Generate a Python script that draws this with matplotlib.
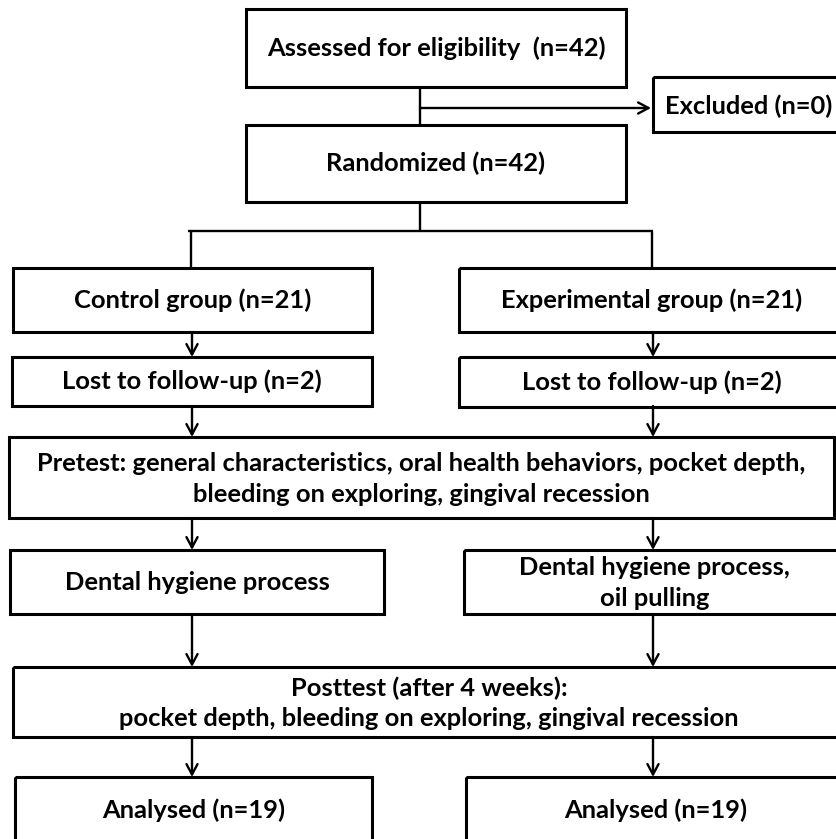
import matplotlib
matplotlib.use("Agg")
import matplotlib.pyplot as plt
from matplotlib import font_manager
from matplotlib.patches import Rectangle

# box texts
assessed = "Assessed for eligibility  (n=42)"
excluded = "Excluded (n=0)"
randomized = "Randomized (n=42)"
groups = ["Control group (n=21)", "Experimental group (n=21)"]
lost = ["Lost to follow-up (n=2)", "Lost to follow-up (n=2)"]
pretest = ("Pretest: general characteristics, oral health behaviors, pocket depth,\n"
           "bleeding on exploring, gingival recession")
treatment = ["Dental hygiene process", "Dental hygiene process,\noil pulling"]
posttest = "Posttest (after 4 weeks):\npocket depth, bleeding on exploring, gingival recession"
analysed = ["Analysed (n=19)", "Analysed (n=19)"]

W, H = 836, 839
fig = plt.figure(figsize=(W / 100, H / 100), dpi=100)
ax = fig.add_axes([0, 0, 1, 1])
ax.set_xlim(0, W)
ax.set_ylim(H, 0)
ax.axis("off")

# the original uses a narrow bold font; take whichever installed font
# gives the largest size when the long pretest line is ~768 px wide
r = fig.canvas.get_renderer()
family, fs = "DejaVu Sans", 0
for f in ["Liberation Sans Narrow", "Roboto", "Lato", "Open Sans", "Noto Sans"]:
    try:
        font_manager.findfont(font_manager.FontProperties(family=f, weight="bold"),
                              fallback_to_default=False)
    except Exception:
        continue
    t = ax.text(0, 0, pretest.split("\n")[0], fontsize=20, fontweight="bold", family=f)
    w = t.get_window_extent(renderer=r).width
    t.remove()
    if 20 * 768 / w > fs:
        family, fs = f, 20 * 768 / w
print("font:", family, fs)

BOX_LW = 2.2
LINE_LW = 1.7
LS = 1.38  # ~32 px between the two lines


def box(x0, y0, x1, y1, text, ty=None):
    ax.add_patch(Rectangle((x0, y0), x1 - x0, y1 - y0, fill=False,
                           edgecolor="black", lw=BOX_LW, clip_on=False))
    if ty is None:
        ty = (y0 + y1) / 2
    ax.text((x0 + x1) / 2, ty, text, ha="center", va="center",
            fontsize=fs, fontweight="bold", family=family, linespacing=LS,
            multialignment="center")


def line(xs, ys):
    ax.plot(xs, ys, color="black", lw=LINE_LW, solid_capstyle="butt")


def arrow(x0, y0, x1, y1):
    ax.annotate("", xy=(x1, y1), xytext=(x0, y0),
                arrowprops=dict(arrowstyle="->,head_length=0.75,head_width=0.4",
                                color="black", lw=LINE_LW,
                                shrinkA=0, shrinkB=0))


# top part
box(246, 9, 626, 87, assessed)
box(653, 77, 845, 132, excluded, ty=106)
box(246, 125, 626, 202, randomized)
line([420, 420], [87, 125])
arrow(420, 108, 651, 108)
line([420, 420], [202, 231])
line([188, 653], [231, 231])
line([191, 191], [231, 268])
line([652, 652], [231, 268])

box(13, 268, 372, 332, groups[0])
box(459, 268, 845, 332, groups[1], ty=300)
box(12, 357, 372, 406, lost[0])
box(459, 357, 845, 407, lost[1], ty=382)
box(9, 437, 834, 518, pretest, ty=479)
box(10, 550, 384, 614, treatment[0], ty=583)
box(464, 550, 845, 614, treatment[1], ty=583)
box(13, 667, 845, 737, posttest, ty=703)
box(15, 777, 372, 880, analysed[0], ty=810)
box(466, 777, 845, 880, analysed[1], ty=810)

for c in [192, 653]:
    arrow(c, 332, c, 357)
    arrow(c, 406, c, 437)
    arrow(c, 518, c, 550)
    arrow(c, 614, c, 667)
    arrow(c, 737, c, 777)

fig.savefig("out.png", dpi=100)
